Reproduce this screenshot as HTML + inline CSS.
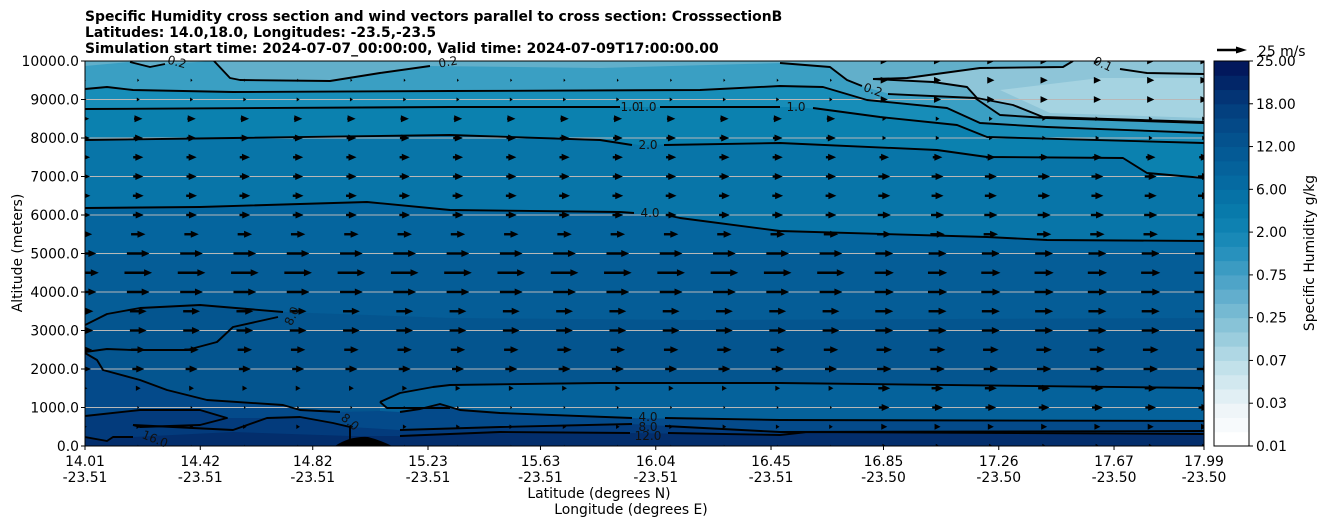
<!DOCTYPE html>
<html><head><meta charset="utf-8"><style>
body{margin:0;background:#fff;width:1326px;height:526px;overflow:hidden}
svg{display:block;font-family:"DejaVu Sans","Liberation Sans",sans-serif}
</style></head><body>
<svg id="chart" width="1326" height="526" viewBox="0 0 1326 526" xmlns="http://www.w3.org/2000/svg">
<defs><clipPath id="plotclip"><rect x="85" y="61" width="1119" height="385"/></clipPath></defs>
<g font-size="13.9" font-weight="bold" fill="#000">
<text x="85" y="21">Specific Humidity cross section and wind vectors parallel to cross section: CrosssectionB</text>
<text x="85" y="37">Latitudes: 14.0,18.0, Longitudes: -23.5,-23.5</text>
<text x="85" y="53">Simulation start time: 2024-07-07_00:00:00, Valid time: 2024-07-09T17:00:00.00</text>
</g>
<g id="plot" clip-path="url(#plotclip)">
<g id="fills"></g>
<g id="grid"></g>
<g id="contours"></g>
<g id="arrows"></g>
</g>
<g id="clabels" font-size="12" fill="#111"></g>
<rect x="85" y="61" width="1119" height="385" fill="none" stroke="#000" stroke-width="1"/>
<g id="yaxis" font-size="13.9"></g>
<g id="xaxis" font-size="13.9"></g>
<text x="599" y="498" font-size="13.9" text-anchor="middle">Latitude (degrees N)</text>
<text x="631" y="514" font-size="13.9" text-anchor="middle">Longitude (degrees E)</text>
<text transform="translate(22,253) rotate(-90)" font-size="13.9" text-anchor="middle">Altitude (meters)</text>
<g id="cbar"></g>
<text transform="translate(1314,253) rotate(-90)" font-size="13.9" text-anchor="middle">Specific Humidity g/kg</text>
<g>
<line x1="1217" y1="50" x2="1238" y2="50" stroke="#000" stroke-width="2.5"/>
<polygon points="1236,46.5 1247,50 1236,53.5" fill="#000"/>
<text x="1258" y="56" font-size="13.9">25 m/s</text>
</g>
</svg>
<script>
const NS="http://www.w3.org/2000/svg";
// ---- data ----
const altTicks=[0,1000,2000,3000,4000,5000,6000,7000,8000,9000,10000];
const latLabels=["14.01","14.42","14.82","15.23","15.63","16.04","16.45","16.85","17.26","17.67","17.99"];
const lonLabels=["-23.51","-23.51","-23.51","-23.51","-23.51","-23.51","-23.51","-23.50","-23.50","-23.50","-23.50"];
const latTickValues=[14.01,14.42,14.82,15.23,15.63,16.04,16.45,16.85,17.26,17.67,17.99];
const cbarTicks=["0.01","0.03","0.07","0.25","0.75","2.00","6.00","12.00","18.00","25.00"];
const windAlts=[0,500,1000,1500,2000,2500,3000,3500,4000,4500,5000,5500,6000,6500,7000,7500,8000,8500,9000,9500,10000];
const windWest=[1,3,1.5,4,10,12,14,14,19,23,19,12,9,9,8.5,8.5,8,7,2.5,1.5,0];
const windEast=[3,5,9,10,12,13,15,15,16,16,15,12,11,10,10,8,3,3,6,6,6];
const windCols=22;
// ---- axes ----
const X0=85,X1=1204,Y0=446,Y1=61;
const yS=a=>Y0-(a/10000)*(Y0-Y1);
const xS=lat=>X0+(lat-14.01)/(17.99-14.01)*(X1-X0);
function el(tag,attrs,parent){const e=document.createElementNS(NS,tag);for(const k in attrs)e.setAttribute(k,attrs[k]);parent.appendChild(e);return e;}
// ---- fills (pixel-traced contour boundaries) ----
const fills=document.getElementById('fills');
function fillAbove(pts,color){
  const d="M85,61 L"+pts.map(p=>p.join(",")).join(" L")+" L1204,61 Z";
  const p=el('path',{d:d,fill:color},fills);
  
  
}
el('rect',{x:85,y:61,width:1119,height:385,fill:'#032e6c'},fills);
const L12=[[85,437],[107,441],[113,437],[133,437],[233,432],[350,436],[400,436],[500,432],[630,433],[780,435],[807,432],[1204,434]];
const L8=[[85,416],[140,410],[200,410],[227,418],[267,418],[300,417],[350,427],[400,430],[500,427],[630,424],[780,432],[1204,431]];
const L4=[[85,353],[97,360],[103,370],[140,380],[167,390],[207,400],[283,405],[300,410],[340,412],[380,411],[400,412],[420,409],[440,404],[460,410],[500,413],[630,418],[780,420],[1204,421]];
const L15=[[380,402],[400,393],[433,387],[450,385],[600,383],[780,383],[1204,388]];
const L33=[[85,325],[107,314],[140,308],[200,305],[283,312],[450,318],[700,320],[1204,318]];
const L50=[[85,255],[600,254],[1204,252]];
const L62=[[85,208],[200,207],[367,202],[450,210],[620,212],[680,218],[780,231],[987,237],[1047,240],[1204,241]];
const L80=[[85,140],[233,138],[450,135],[600,140],[640,145],[780,143],[937,150],[987,157],[1123,158],[1147,173],[1204,178]];
const L88=[[85,109],[450,107],[800,107],[880,117],[957,125],[987,137],[1204,143]];
const L93=[[85,89],[107,87],[133,90],[233,92],[450,91],[700,90],[780,86],[823,87],[867,100],[947,108],[980,123],[1047,127],[1204,133]];
const L96=[[85,66],[130,62],[150,67],[165,64],[214,61],[230,78],[240,80],[330,81],[380,73],[430,66],[600,68],[780,63],[830,67],[847,80],[865,87],[890,94],[975,98],[1000,115],[1047,118],[1204,123]];
fillAbove(L12,'#033b7c');
fillAbove(L8,'#044a8a');
fillAbove(L4,'#04558f');
{const band=L15.concat(L4.filter(p=>p[0]>=380).slice().reverse());
 const p=el('path',{d:"M"+band.map(p=>p.join(",")).join(" L")+" Z",fill:'#05629b'},fills);
 }
fillAbove(L33,'#055d97');
fillAbove(L50,'#05659e');
fillAbove(L62,'#0875a8');
fillAbove(L80,'#0b81af');
fillAbove(L88,'#178db8');
fillAbove(L93,'#3a9fc3');
fillAbove(L96,'#62afca');
{const tr=[[873,79],[907,78],[980,68],[1063,67],[1073,61],[1204,61],[1204,122],[1043,117],[1013,105],[977,98],[967,87],[933,82]];
 const p=el('path',{d:"M"+tr.map(p=>p.join(",")).join(" L")+" Z",fill:'#8ec5d8'},fills);
 
 const tr2=[[1000,90],[1100,78],[1204,78],[1204,118],[1050,113]];
 const q=el('path',{d:"M"+tr2.map(p=>p.join(",")).join(" L")+" Z",fill:'#a5d3e1'},fills);
 }
// gridlines
const grid=document.getElementById('grid');
altTicks.forEach(a=>{if(a===0||a===10000)return;
 const g=el('line',{x1:85,x2:1204,y1:yS(a),y2:yS(a),stroke:'#b8b8b8','stroke-width':1},grid);
 });
// contour lines
const cont=document.getElementById('contours');
const extra=[
 [[873,79],[907,78],[980,68],[1063,67],[1073,61]],
 [[873,79],[933,82],[967,87],[977,98],[1013,105],[1043,117],[1204,122]],
 [[1120,69],[1147,73],[1204,74]],
 [[85,325],[107,314],[140,308],[200,305],[283,312]],
 [[278,317],[233,327],[217,342],[187,350],[133,350],[107,349],[85,352]],
 [[380,402],[387,408],[450,408]],
 [[133,425],[140,427],[200,425],[227,418],[200,410],[140,410],[85,416]],
 [[133,425],[233,430],[267,418],[300,417],[333,423],[350,427],[350,440]]
];
const mainLines=[
 [[85,89],[107,87],[133,90],[233,92],[450,91],[700,90],[780,86],[823,87],[867,100],[947,108],[980,123],[1047,127],[1204,133]],
 [[214,61],[230,78],[240,80],[330,81],[380,73],[430,66]],
 [[130,62],[150,67],[165,64]],
 [[85,109],[450,107],[620,107]],[[660,107],[780,107]],[[813,108],[880,117],[957,125],[987,137],[1204,143]],
 [[85,140],[233,138],[450,135],[600,140],[632,145]],[[664,145],[780,143],[937,150],[987,157],[1123,158],[1147,173],[1204,178]],
 [[85,208],[200,207],[367,202],[450,210],[620,212],[634,213]],[[666,215],[680,218],[780,231],[987,237],[1047,240],[1204,241]],
 [[380,402],[400,393],[433,387],[450,385],[600,383],[780,383],[1204,388]],
 [[85,353],[97,360],[103,370],[140,380],[167,390],[207,400],[283,405],[300,410],[340,412]],
 [[400,412],[420,409],[440,404],[460,410],[500,413],[632,418]],[[665,418],[780,420],[1204,421]],
 [[400,430],[500,427],[632,424]],[[665,426],[780,432],[1204,431]],
 [[400,436],[500,432],[630,433]],[[668,433],[780,435],[807,432],[1204,434]],
 [[85,437],[107,441],[113,437],[133,437]],
 [[780,63],[830,67],[847,80],[862,86]],[[888,94],[975,98],[1000,115],[1047,118],[1204,123]]
];
mainLines.concat(extra).forEach(pts=>{
 const p=el('polyline',{points:pts.map(p=>p.join(",")).join(" "),fill:'none',stroke:'#000','stroke-width':1.9,'stroke-linejoin':'round'},cont);
 });
el('path',{d:'M335,446 Q350,436 368,437 Q380,440 392,446 Z',fill:'#000'},cont);
// contour labels
const cl=document.getElementById('clabels');
[["0.2",177,66,15],["0.2",448,66,-10],["1.0",630,111,0],["1.0",647,111,0],["1.0",796,111,0],["2.0",648,149,0],["4.0",650,217,0],["0.2",873,94,20],["0.1",1103,68,25],["8.0",292,320,-65],["8.0",350,426,40],["16.0",155,443,22],["4.0",648,421,0],["8.0",648,431,0],["12.0",648,440,0]]
.forEach(l=>{const t=el('text',{x:l[1],y:l[2],'text-anchor':'middle',transform:`rotate(${l[3]} ${l[1]} ${l[2]-4})`},cl);t.textContent=l[0];
 });
// arrows
const arr=document.getElementById('arrows');
const pxPerMs=1.2;
for(let c=0;c<windCols;c++){
 const cx=X0+c*(X1-X0)/(windCols-1);
 const prof=c<15?windWest:windEast;
 windAlts.forEach((a,i)=>{
  const L=prof[i]*pxPerMs; if(L<=0)return;
  const y=yS(a);const x0=cx-L/2,x1=cx+L/2;
  const hl=Math.min(8,L), hw=Math.min(3.5,1+L/3);
  const g=el('g',{},arr);
  
  
  if(L>hl) el('line',{x1:x0,y1:y,x2:x1-hl+1,y2:y,stroke:'#000','stroke-width':2.4},g);
  el('polygon',{points:`${x1-hl},${y-hw} ${x1},${y} ${x1-hl},${y+hw}`,fill:'#000'},g);
 });
}
// y axis
const ya=document.getElementById('yaxis');
altTicks.forEach(a=>{const y=yS(a);
 el('line',{x1:81,x2:85,y1:y,y2:y,stroke:'#000'},ya);
 const t=el('text',{x:79,y:y+5,'text-anchor':'end'},ya);t.textContent=a.toFixed(1);
 });
// x axis
const xa=document.getElementById('xaxis');
latTickValues.forEach((v,i)=>{const x=xS(v);
 el('line',{x1:x,x2:x,y1:446,y2:450,stroke:'#000'},xa);
 const t=el('text',{x:x,y:466,'text-anchor':'middle'},xa);t.textContent=latLabels[i];
 
 const t2=el('text',{x:x,y:482,'text-anchor':'middle'},xa);t2.textContent=lonLabels[i];
 });
// colorbar
const cb=document.getElementById('cbar');
const stops=[[0,[255,255,255]],[0.08,[238,245,248]],[0.18,[200,228,236]],[0.3,[140,197,216]],[0.42,[80,165,200]],[0.52,[30,140,186]],[0.6,[8,125,173]],[0.7,[5,104,160]],[0.8,[4,84,144]],[0.9,[3,60,124]],[1,[2,24,92]]];
function cmap(t){for(let i=1;i<stops.length;i++){if(t<=stops[i][0]){const a=stops[i-1],b=stops[i];const f=(t-a[0])/(b[0]-a[0]);return 'rgb('+a[1].map((v,k)=>Math.round(v+(b[1][k]-v)*f)).join(',')+')';}}return 'rgb(2,24,92)';}
const nb=27,bh=385/nb;
for(let i=0;i<nb;i++){el('rect',{x:1214,y:446-(i+1)*bh,width:35,height:bh+0.5,fill:cmap(i/(nb-1))},cb);}
el('rect',{x:1214,y:61,width:35,height:385,fill:'none',stroke:'#000'},cb);
cbarTicks.forEach((s,i)=>{const y=446-i*385/(cbarTicks.length-1);
 el('line',{x1:1249,x2:1253,y1:y,y2:y,stroke:'#000'},cb);
 const t=el('text',{x:1256,y:y+5,'font-size':13.9},cb);t.textContent=s;
 });
</script>
</body></html>
